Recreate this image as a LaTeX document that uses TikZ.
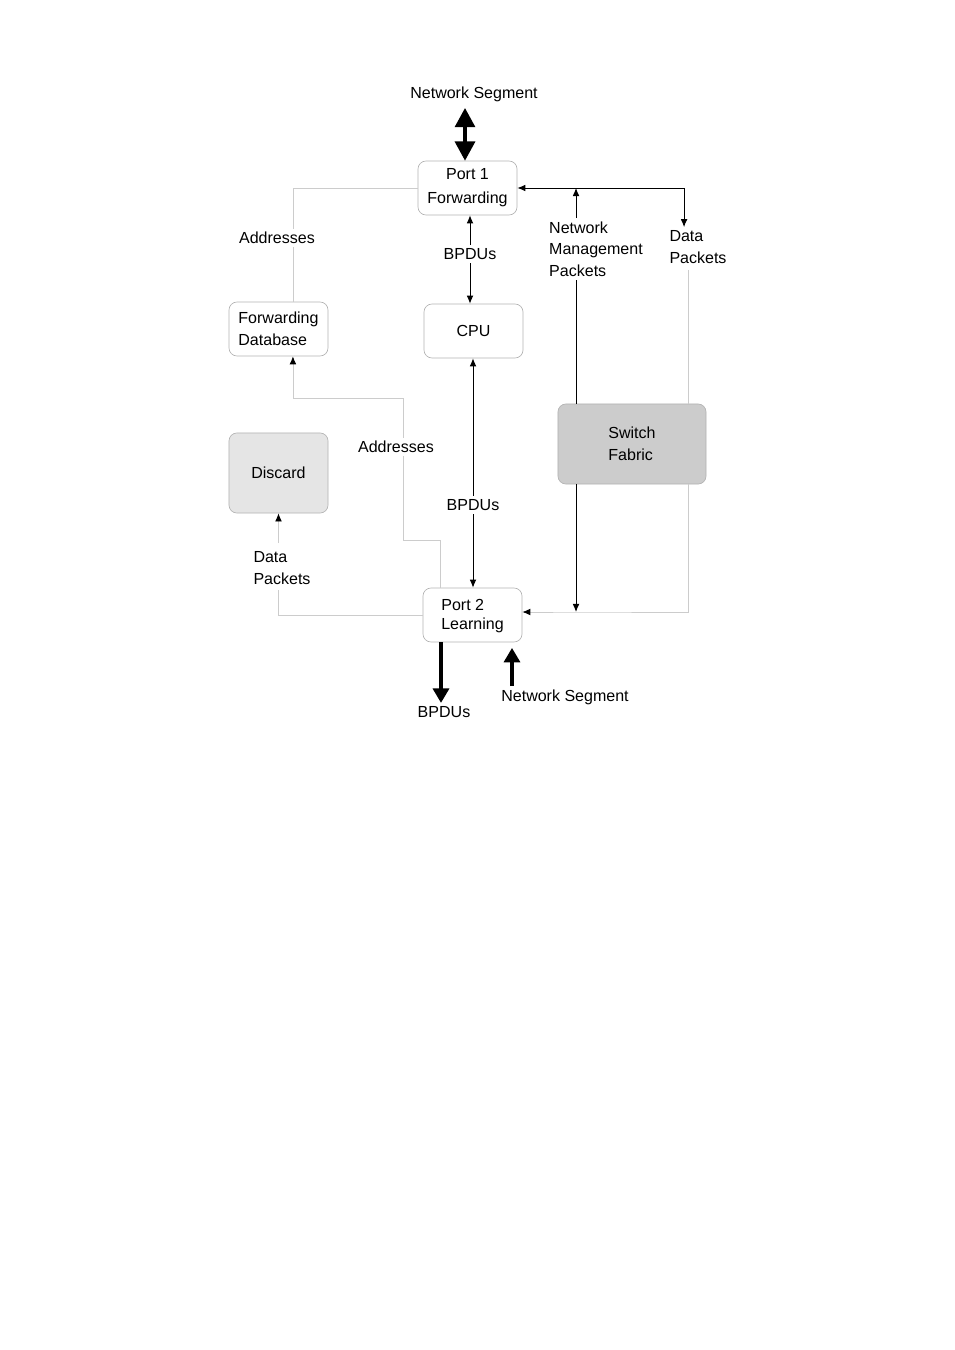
\documentclass[tikz,border=0pt]{standalone}
\usepackage{fontspec}
\setmainfont{Liberation Sans}
\usepackage{tikz}
\usetikzlibrary{arrows.meta,calc,positioning}

\begin{document}
\begin{tikzpicture}[x=0.624pt,y=-0.624pt,
		font=\fontsize{10}{13.4}\selectfont,
		box/.style={draw=gray!60, rounded corners=5pt, minimum width=61.8pt, minimum height=33.7pt, inner sep=2pt},
		lbl/.style={fill=white, inner sep=2pt},
		gline/.style={draw=gray!40, line width=0.5pt},
		bline/.style={draw=black, line width=0.6pt},
		arr/.style={-{Latex[length=5pt,width=4.2pt,black]}},
		bigarrow/.style={line width=2pt, -{Triangle[length=9pt,width=10pt]}}]
	
	\useasboundingbox (0,0) rectangle (954,1350);
	
	
	\node[box, align=center] (p1) at (467.5,188) {Port 1\\[1.5pt]Forwarding};
	\node[box, align=left] (fdb) at (278.5,329) {Forwarding\\Database};
	\node[box] (cpu) at (473.5,331) {CPU};
	\node[box, fill=gray!20, minimum height=50pt] (disc) at (278.5,473) {Discard};
	\node[box, fill=gray!40, align=left, minimum width=92.4pt, minimum height=50pt] (fab) at (632,444) {Switch\\Fabric};
	\node[box, align=left, inner sep=1pt, font=\fontsize{10}{12}\selectfont] (p2) at (472.5,615) {\strut Port 2\\Learning};
	
	
	\coordinate (nmx) at (576,0);
	\coordinate (dpx) at (688,0);
	\coordinate (nsx) at (512,0);
	\coordinate (a1) at (403,540);
	\coordinate (a2) at (403,398);
	
	
	\draw[gline] (p1.west) -| ([xshift=9pt]fdb.north);
	\draw[gline, arr] ([xshift=-20.3pt]p2.north) |- (a1) -- (a2) -| ([xshift=9pt]fdb.south);
	\draw[gline] (p2.west) -| (disc.south |- 0,590);
	\draw[gline, arr] (disc.south |- 0,543) -- (disc.south);
	\draw[gline] (dpx |- 0,270) -- (fab.north -| dpx);
	\draw[gline, arr] (fab.south -| dpx) |- (nmx |- 0,612) -- (p2.east |- 0,612);
	
	
	\node[lbl] (ns1) at (474,94) {Network Segment};
	\node[lbl] (addr1) at (277,238) {Addresses};
	\node[lbl] (bpdu1) at (470,254) {BPDUs};
	\node[lbl, align=left] (nmp) at (596,249) {Network\\Management\\Packets};
	\node[lbl, align=left] (dp1) at (698,247) {Data\\Packets};
	\node[lbl] (addr2) at (396,447) {Addresses};
	\node[lbl] (bpdu2) at (473,505) {BPDUs};
	\node[lbl, align=left] (dp2) at (282,568) {Data\\Packets};
	\node[lbl] (bpdu3) at (444,712) {BPDUs};
	\node[lbl] (ns2) at (565,697) {Network Segment};
	
	
	\draw[bline, arr] (bpdu1.north) -- (bpdu1.north |- p1.south);
	\draw[bline, arr] (bpdu1.south) -- (bpdu1.south |- cpu.north);
	\draw[bline, arr] (bpdu2.north) -- (bpdu2.north |- cpu.south);
	\draw[bline, arr] (bpdu2.south) -- (bpdu2.south |- p2.north);
	\draw[bline, {Latex[length=5pt,width=4.2pt]}-{Latex[length=5pt,width=4.2pt]}] (p1.east) -| ([xshift=-8.7pt]dp1.north);
	\draw[bline] (fab.north -| nmx) -- (nmp.south -| nmx);
	\draw[bline, arr] (nmp.north -| nmx) -- (p1.east -| nmx);
	\draw[bline, arr] (fab.south -| nmx) -- (nmx |- 0,612);
	
	
	\draw[line width=2pt, {Triangle[length=12pt,width=12.5pt]}-{Triangle[length=12pt,width=12.5pt]}] (ns1.south -| 465,0) ++(0,3) -- (p1.north -| 465,0);
	\draw[bigarrow] (p2.south -| 441,0) -- (bpdu3.north -| 441,0);
	\draw[bigarrow, shorten >=3.5pt] (ns2.north -| nsx) -- (p2.south -| nsx);
\end{tikzpicture}
\end{document}
